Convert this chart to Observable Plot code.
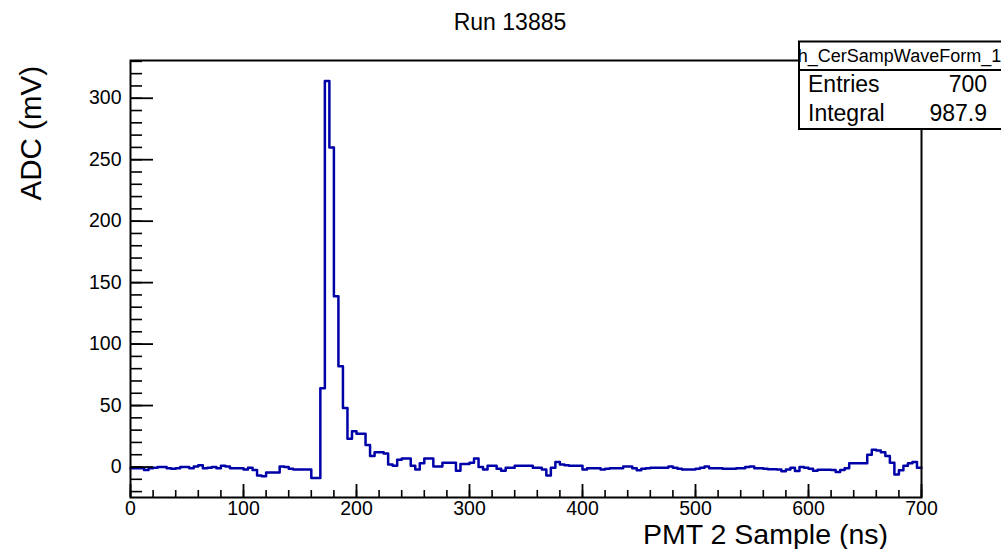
<!DOCTYPE html>
<html>
<head>
<meta charset="utf-8">
<script src="https://cdn.jsdelivr.net/npm/d3@7"></script>
<script src="https://cdn.jsdelivr.net/npm/@observablehq/plot@0.6"></script>
<style>
  html, body { margin: 0; padding: 0; background: #fff; }
  #chart svg { display: block; }
</style>
</head>
<body>
<div id="chart"></div>
<script>
// ---- Data ----
const binWidth = 4; // ns per bin
const adcValues = [
  -1, -1, -1, -2.5, -1, -0.5, 0, 0, -1, -1.5,
  -1, 0, 0, -1, 0.5, 1.5, -1, -0.5, 0, -1,
  1, 0.5, -1, -1, -1, -2, -0.5, -2.5, -7, -7.5,
  -4.5, -4.5, -4.5, 0.5, 0, -1.5, -2, -2, -2, -2,
  -9, -9, 64, 314, 260, 139, 82, 48, 23, 29,
  27, 27, 18, 9, 12, 12, 11, 2, 1, 6,
  7, 7, 1, -2, 3, 7, 7, 0.5, 0.5, 3.5,
  3.5, 3.5, -3, 2.5, 2.5, 3.5, 7, 0, -2, 1,
  1, -1.5, -3, -0.5, -0.5, 1, 1, 1, 1, -0.5,
  -0.5, -2, -7, -0.5, 4, 2, 1.5, 1, 1, 1,
  -2, -1, -1, -1, -2, -1.5, -1, -1, -1, 0.5,
  0.5, -1, -2.7, -1.5, -1, -0.5, -0.5, -0.5, -0.5, 0.5,
  -0.5, -1.5, -2, -2, -2, -1.5, -0.5, 0.5, -1, -1,
  -1, -1.5, -1.5, -1.5, -1, -1, 0, 0.5, -1, -1,
  -1.5, -1.8, -1.8, -2, -3.5, -2, -0.5, -3.3, 0, -0.5,
  -1.5, -3, -2.2, -2.2, -2.2, -2.5, -4, -2.5, -1, 3,
  3, 3, 3, 10, 14, 13.5, 12, 9, 3.5, -6,
  -2.7, 1, 3, 4, -0.5
];
const xMajorTicks = [0, 100, 200, 300, 400, 500, 600, 700];
const xMinorTicks = d3.range(0, 701, 20);
const yMajorTicks = [0, 50, 100, 150, 200, 250, 300];
const yMinorTicks = d3.range(-20, 331, 10);
const xDomain = [0, 700];
const yDomain = [-24.8, 330.7];

const titleText = "Run 13885";
const xTitle = "PMT 2 Sample (ns)";
const yTitle = "ADC (mV)";
const statName = "h_CerSampWaveForm_1";
const statLabels = ["Entries", "Integral"];
const statValues = ["700", "987.9"];

// ---- Build step points ----
const points = adcValues.map((v, i) => ({x: i * binWidth, y: v}));
points.push({x: adcValues.length * binWidth, y: adcValues[adcValues.length - 1]});

const W = 1001, H = 549;
const mL = 130, mR = 80, mT = 60, mB = 52;
const frameW = W - mL - mR, frameH = H - mT - mB;
const font = "Liberation Sans, Arial, Helvetica, sans-serif";

const chart = Plot.plot({
  width: W,
  height: H,
  marginLeft: mL,
  marginRight: mR,
  marginTop: mT,
  marginBottom: mB,
  style: {fontFamily: font, fontSize: "20px", background: "#fff", color: "#000", overflow: "visible"},
  x: {domain: xDomain},
  y: {domain: yDomain},
  marks: [
    Plot.line(points, {x: "x", y: "y", curve: "step-after", stroke: "#0000a8", strokeWidth: 2.5}),
    Plot.frame({stroke: "#000", strokeWidth: 2}),
    Plot.tickX(xMinorTicks, {x: d => d, insetTop: frameH - 7, stroke: "#000", strokeWidth: 1.6}),
    Plot.tickX(xMajorTicks, {x: d => d, insetTop: frameH - 13, stroke: "#000", strokeWidth: 1.8}),
    Plot.tickY(yMinorTicks, {y: d => d, insetRight: frameW - 12, stroke: "#000", strokeWidth: 1.6}),
    Plot.tickY(yMajorTicks, {y: d => d, insetRight: frameW - 23, stroke: "#000", strokeWidth: 1.8}),
    Plot.axisX({ticks: xMajorTicks, tickSize: 0, tickPadding: 4, label: null, fontSize: 19.5, fill: "#000"}),
    Plot.axisY({ticks: yMajorTicks, tickSize: 0, tickPadding: 9, label: null, fontSize: 19.5, fill: "#000"})
  ]
});

document.getElementById("chart").appendChild(chart);

// ---- Titles and stats box ----
const svg = d3.select(chart);
svg.append("text")
  .attr("x", 510).attr("y", 30)
  .attr("text-anchor", "middle")
  .attr("font-size", 23).attr("font-family", font).attr("fill", "#000")
  .text(titleText);

svg.append("text")
  .attr("x", 888).attr("y", 543.5)
  .attr("text-anchor", "end")
  .attr("font-size", 28.5).attr("font-family", font).attr("fill", "#000")
  .text(xTitle);

svg.append("text")
  .attr("transform", "translate(41,66) rotate(-90)")
  .attr("text-anchor", "end")
  .attr("font-size", 29.5).attr("font-family", font).attr("fill", "#000")
  .text(yTitle);

const box = svg.append("g");
const bx = 799, by = 41.5, bw = 204, bh = 87.5, sepY = 70;
svg.append("defs").append("clipPath").attr("id", "statclip")
  .append("rect").attr("x", bx).attr("y", by).attr("width", bw).attr("height", sepY - by);
box.append("rect")
  .attr("x", bx).attr("y", by).attr("width", bw).attr("height", bh)
  .attr("fill", "#fff").attr("stroke", "#000").attr("stroke-width", 2);
box.append("line")
  .attr("x1", bx).attr("x2", bx + bw).attr("y1", sepY).attr("y2", sepY)
  .attr("stroke", "#000").attr("stroke-width", 2);
box.append("text")
  .attr("clip-path", "url(#statclip)")
  .attr("x", 899.5).attr("y", 62)
  .attr("text-anchor", "middle")
  .attr("font-size", 18).attr("font-family", font).attr("fill", "#000")
  .text(statName);
const rowY = [91.5, 120.5];
statLabels.forEach((lab, i) => {
  box.append("text")
    .attr("x", 808).attr("y", rowY[i])
    .attr("text-anchor", "start")
    .attr("font-size", 23).attr("font-family", font).attr("fill", "#000")
    .text(lab);
  box.append("text")
    .attr("x", 987).attr("y", rowY[i])
    .attr("text-anchor", "end")
    .attr("font-size", 23).attr("font-family", font).attr("fill", "#000")
    .text(statValues[i]);
});
</script>
</body>
</html>
